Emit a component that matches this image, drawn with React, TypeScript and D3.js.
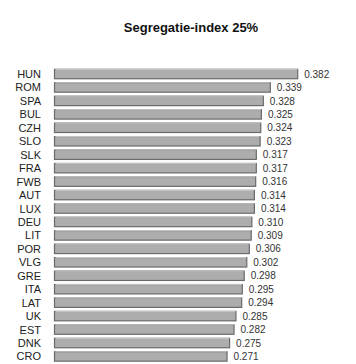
import React from "react";
import * as d3 from "d3";

const categories = ["HUN","ROM","SPA","BUL","CZH","SLO","SLK","FRA","FWB","AUT","LUX","DEU","LIT","POR","VLG","GRE","ITA","LAT","UK","EST","DNK","CRO"];
const values = [0.382,0.339,0.328,0.325,0.324,0.323,0.317,0.317,0.316,0.314,0.314,0.310,0.309,0.306,0.302,0.298,0.295,0.294,0.285,0.282,0.275,0.271];
const title = "Segregatie-index 25%";

export default function App() {
  const W = 356, H = 364;
  const x = d3.scaleLinear().domain([0, 0.382]).range([54.5, 297.7]);
  const step = 13.45;
  const y = d3.scaleBand<string>().domain(categories)
    .range([67.3, 67.3 + categories.length * step])
    .paddingInner(0.3).paddingOuter(0.15);
  const bw = y.bandwidth();
  const font = "Liberation Sans, Arial, sans-serif";
  return (
    <svg width={W} height={H} style={{ position: "absolute", left: 0, top: 0, background: "#fff" }}>
      <text x={191} y={32} textAnchor="middle" fontFamily={font} fontWeight="bold" fontSize={13} fill="#111">{title}</text>
      {categories.map((c, i) => {
        const y0 = y(c)!;
        const x0 = x(0), x1 = x(values[i]);
        return (
          <g key={c}>
            <rect x={x0} y={y0} width={x1 - x0} height={bw} fill="#adadad" stroke="#6a6a6a" strokeWidth={1.2} />
            <line x1={x0 + 1} x2={x1 - 0.5} y1={y0} y2={y0} stroke="#c4c4c4" strokeWidth={1.2} />
            <text x={41} y={y0 + bw / 2 + 4} textAnchor="end" fontFamily={font} fontSize={11} fill="#222">{c}</text>
            <text x={x1 + 6.5} y={y0 + bw / 2 + 3.6} fontFamily={font} fontSize={10} fill="#333">{values[i].toFixed(3)}</text>
          </g>
        );
      })}
    </svg>
  );
}
